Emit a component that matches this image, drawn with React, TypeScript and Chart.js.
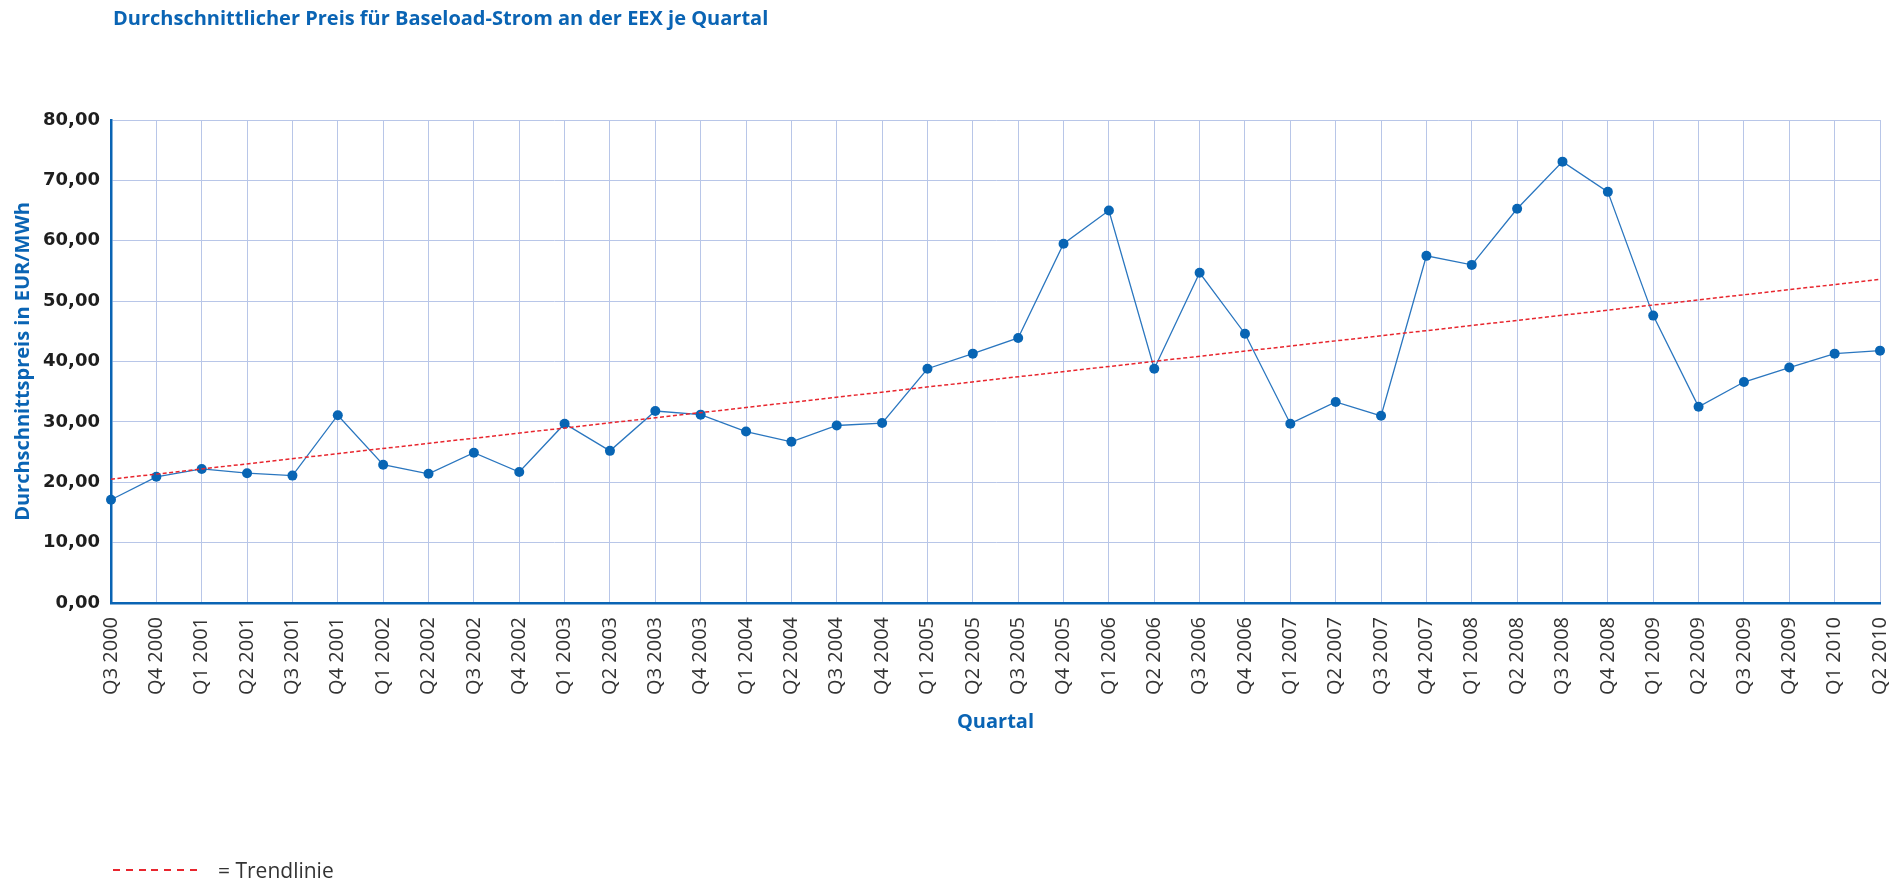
import React, { useEffect, useRef } from "react";
import { Chart, registerables } from "chart.js";

Chart.register(...registerables);

const categories: string[] = [
  "Q3 2000", "Q4 2000",
  "Q1 2001", "Q2 2001", "Q3 2001", "Q4 2001",
  "Q1 2002", "Q2 2002", "Q3 2002", "Q4 2002",
  "Q1 2003", "Q2 2003", "Q3 2003", "Q4 2003",
  "Q1 2004", "Q2 2004", "Q3 2004", "Q4 2004",
  "Q1 2005", "Q2 2005", "Q3 2005", "Q4 2005",
  "Q1 2006", "Q2 2006", "Q3 2006", "Q4 2006",
  "Q1 2007", "Q2 2007", "Q3 2007", "Q4 2007",
  "Q1 2008", "Q2 2008", "Q3 2008", "Q4 2008",
  "Q1 2009", "Q2 2009", "Q3 2009", "Q4 2009",
  "Q1 2010", "Q2 2010",
];

const prices: number[] = [
  17.1, 20.9,
  22.2, 21.5, 21.1, 31.1,
  22.9, 21.4, 24.9, 21.7,
  29.7, 25.2, 31.8, 31.2,
  28.4, 26.7, 29.4, 29.8,
  38.8, 41.3, 43.9, 59.5,
  65.0, 38.8, 54.7, 44.6,
  29.7, 33.3, 31.0, 57.5,
  56.0, 65.3, 73.1, 68.1,
  47.6, 32.5, 36.6, 39.0,
  41.3, 41.8,
];

// Trend line end values
const trendStart = 20.5;
const trendEnd = 53.6;

const yTicks: number[] = [0, 10, 20, 30, 40, 50, 60, 70, 80];

const titleText = "Durchschnittlicher Preis für Baseload-Strom an der EEX je Quartal";
const yAxisTitle = "Durchschnittspreis in EUR/MWh";
const xAxisTitle = "Quartal";
const legendText = "= Trendlinie";

const BLUE = "#0a64b4";
const GRID = "#b8c6e8";
const RED = "#e8262e";

export default function App() {
  const canvasRef = useRef<HTMLCanvasElement | null>(null);

  useEffect(() => {
    if (!canvasRef.current) return;
    const chart = new Chart(canvasRef.current, {
      type: "line",
      data: {
        labels: categories,
        datasets: [
          {
            label: "Trendlinie",
            data: [
              { x: categories[0], y: trendStart },
              { x: categories[categories.length - 1], y: trendEnd },
            ] as any,
            borderColor: RED,
            borderWidth: 1.5,
            borderDash: [4, 2.5],
            pointRadius: 0,
            fill: false,
          },
          {
            label: "Preis",
            data: prices,
            borderColor: "#2a76bf",
            borderWidth: 1.3,
            pointRadius: 5,
            pointBackgroundColor: "#0865b4",
            pointBorderColor: "#0865b4",
            pointBorderWidth: 0,
            tension: 0,
            fill: false,
          },
        ],
      },
      options: {
        responsive: false,
        animation: false,
        layout: { padding: { top: 120, right: 12, bottom: 148, left: 0 } },
        plugins: {
          legend: { display: false },
          tooltip: { enabled: false },
          title: { display: false },
        },
        scales: {
          x: {
            type: "category",
            offset: false,
            grid: { color: GRID, lineWidth: 1, drawTicks: false },
            border: { color: BLUE, width: 2.5 },
            ticks: {
              autoSkip: false,
              maxRotation: 90,
              minRotation: 90,
              padding: 14,
              color: "#333333",
              font: { family: "'Open Sans'", size: 20 },
            },
            title: {
              display: true,
              text: xAxisTitle,
              color: BLUE,
              font: { family: "'Open Sans'", size: 20, weight: "bold" },
              padding: { top: 0, bottom: 0 },
            },
            afterFit: (scale: any) => {
              scale.height = 131;
              scale.paddingRight = 0;
              scale.paddingLeft = 0;
            },
          },
          y: {
            min: 0,
            max: 80,
            afterBuildTicks: (scale: any) => {
              scale.ticks = yTicks.map((v) => ({ value: v }));
            },
            grid: { color: GRID, lineWidth: 1, drawTicks: false },
            border: { color: BLUE, width: 2.5 },
            ticks: {
              padding: 11,
              color: "#1e1e1e",
              font: { family: "'DejaVu Sans'", size: 18, weight: "bold" },
              callback: (v: any) => Number(v).toFixed(2).replace(".", ","),
            },
            title: {
              display: true,
              text: yAxisTitle,
              color: BLUE,
              font: { family: "'Open Sans'", size: 20, weight: "bold" },
              padding: { top: 11, bottom: 0 },
            },
            afterFit: (scale: any) => {
              scale.width = 111;
            },
          },
        },
      },
    });
    return () => chart.destroy();
  }, []);

  return (
    <div
      style={{
        position: "fixed",
        left: 0,
        top: 0,
        width: 1892,
        height: 882,
        background: "#ffffff",
        overflow: "hidden",
      }}
    >
      <canvas
        ref={canvasRef}
        width={1892}
        height={882}
        style={{ position: "absolute", left: 0, top: 0, width: 1892, height: 882 }}
      />
      <div
        style={{
          position: "absolute",
          left: 113,
          top: 4,
          fontFamily: "'Open Sans', sans-serif",
          fontWeight: "bold",
          fontSize: 20,
          color: BLUE,
          whiteSpace: "nowrap",
          lineHeight: "28px",
        }}
      >
        {titleText}
      </div>
      <div
        style={{
          position: "absolute",
          left: 113,
          top: 855,
          height: 30,
          display: "flex",
          alignItems: "center",
          fontFamily: "'Open Sans', sans-serif",
          fontSize: 21,
          color: "#333333",
          whiteSpace: "nowrap",
        }}
      >
        <span
          style={{
            display: "inline-block",
            width: 90,
            height: 1.5,
            background: `repeating-linear-gradient(to right, ${RED} 0px, ${RED} 7px, transparent 7px, transparent 12.8px)`,
            marginRight: 15,
          }}
        />
        <span>{legendText}</span>
      </div>
    </div>
  );
}
